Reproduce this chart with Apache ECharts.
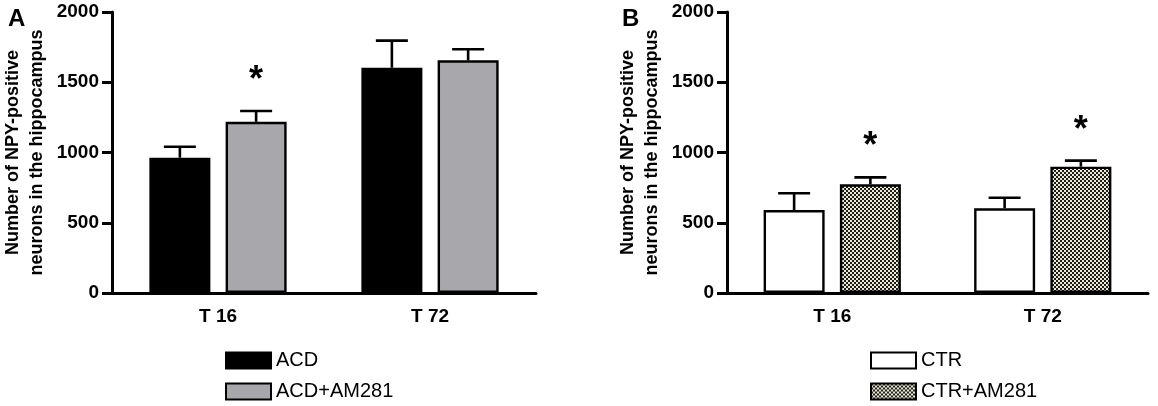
<!DOCTYPE html>
<html>
<head>
<meta charset="utf-8">
<script src="https://cdn.jsdelivr.net/npm/echarts@6/dist/echarts.min.js"></script>
<style>
  html, body { margin: 0; padding: 0; background: #fff; }
  #chart { width: 1158px; height: 406px; }
</style>
</head>
<body>
<div id="chart"></div>
<script>
'use strict';

// values (mean, upper error = SEM)
var groups = ['T 16', 'T 72'];
var yTicks = [0, 500, 1000, 1500, 2000];

var acdMean = [963, 1603];
var acdSem = [78, 193];
var acdAmMean = [1218, 1656];
var acdAmSem = [77, 79];

var ctrMean = [590, 603];
var ctrSem = [120, 75];
var ctrAmMean = [774, 899];
var ctrAmSem = [49, 43];

// significance marks (*) per bar
var acdSig = [false, false];
var acdAmSig = [true, false];
var ctrSig = [false, false];
var ctrAmSig = [true, true];

var yName = 'Number of NPY-positive\nneurons in the hippocampus';
var font = 'Liberation Sans, Arial, sans-serif';

var barW = 61;
var barGap = 0.25;
var half = (barW + barW * barGap) / 2;

// checkered fill for CTR+AM281
var checker = (function() {
  var c = document.createElement('canvas');
  c.width = 4;
  c.height = 4;
  var ctx = c.getContext('2d');
  ctx.fillStyle = '#ebe9d4';
  ctx.fillRect(0, 0, 4, 4);
  ctx.fillStyle = '#1e1e1e';
  ctx.fillRect(0, 0, 2, 2);
  ctx.fillRect(2, 2, 2, 2);
  return c;
})();

var errData = function(mean, sem, sig) {
  return mean.map(function(m, i) {
    return [i, m + sem[i], m, sig[i] ? 1 : 0];
  });
};

var errSeries = function(name, mean, sem, sig, side, axis) {
  return {
    name: name + ' err',
    type: 'custom',
    xAxisIndex: axis,
    yAxisIndex: axis,
    silent: true,
    z: 5,
    data: errData(mean, sem, sig),
    renderItem: function(params, api) {
      var top = api.coord([api.value(0), api.value(1)]);
      var base = api.coord([api.value(0), api.value(2)]);
      var x = top[0] + side * half;
      var st = { stroke: '#000', lineWidth: 2.6 };
      var kids = [
        { type: 'line', shape: { x1: x, y1: base[1], x2: x, y2: top[1] }, style: st },
        { type: 'line', shape: { x1: x - 16, y1: top[1], x2: x + 16, y2: top[1] }, style: st }
      ];
      if (api.value(3)) {
        kids.push({
          type: 'text',
          x: x,
          y: top[1] - 30,
          style: {
            text: '*',
            fill: '#000',
            font: 'bold 36px ' + font,
            align: 'center',
            verticalAlign: 'middle'
          }
        });
      }
      return { type: 'group', children: kids };
    }
  };
};

var barSeries = function(name, mean, color, axis) {
  return {
    name: name,
    type: 'bar',
    xAxisIndex: axis,
    yAxisIndex: axis,
    barWidth: barW,
    barGap: (barGap * 100) + '%',
    silent: true,
    data: mean,
    itemStyle: { color: color, borderColor: '#000', borderWidth: 2.4 }
  };
};

var xAxis = function(idx) {
  return {
    type: 'category',
    gridIndex: idx,
    data: groups,
    axisLine: { lineStyle: { color: '#000', width: 3 } },
    axisTick: { alignWithLabel: true, length: 9, lineStyle: { color: '#000', width: 3 } },
    axisLabel: { color: '#000', fontSize: 19, fontWeight: 'bold', fontFamily: font, margin: 14 }
  };
};

var yAxis = function(idx) {
  return {
    type: 'value',
    gridIndex: idx,
    min: yTicks[0],
    max: yTicks[yTicks.length - 1],
    interval: yTicks[1] - yTicks[0],
    name: yName,
    nameLocation: 'middle',
    nameRotate: 90,
    nameGap: 63,
    nameTextStyle: { color: '#000', fontSize: 18, fontWeight: 'bold', fontFamily: font, lineHeight: 24 },
    splitLine: { show: false },
    axisLine: { show: true, lineStyle: { color: '#000', width: 3 } },
    axisTick: { show: true, length: 10, lineStyle: { color: '#000', width: 3 } },
    axisLabel: {
      color: '#000', fontSize: 19, fontWeight: 'bold', fontFamily: font, margin: 13,
      formatter: function(v) { return String(v); }
    }
  };
};

var legend = function(left, names) {
  return {
    orient: 'vertical',
    left: left,
    top: 345,
    height: 80,
    itemWidth: 45,
    itemHeight: 16,
    itemGap: 10,
    icon: 'rect',
    selectedMode: false,
    data: names,
    textStyle: { color: '#000', fontSize: 20, fontFamily: font, lineHeight: 21 }
  };
};

var chart = echarts.init(document.getElementById('chart'));

chart.setOption({
  backgroundColor: '#fff',
  animation: false,
  title: [
    { text: 'A', left: 3, top: 2, textStyle: { fontSize: 24, fontWeight: 'bold', fontFamily: font, color: '#000' } },
    { text: 'B', left: 617, top: 2, textStyle: { fontSize: 24, fontWeight: 'bold', fontFamily: font, color: '#000' } }
  ],
  legend: [
    legend(220, ['ACD', 'ACD+AM281']),
    legend(865, ['CTR', 'CTR+AM281'])
  ],
  grid: [
    { left: 112, right: 622, top: 12, bottom: 113 },
    { left: 727, right: 10, top: 12, bottom: 113 }
  ],
  xAxis: [xAxis(0), xAxis(1)],
  yAxis: [yAxis(0), yAxis(1)],
  series: [
    barSeries('ACD', acdMean, '#000', 0),
    barSeries('ACD+AM281', acdAmMean, '#a8a8ac', 0),
    barSeries('CTR', ctrMean, '#fff', 1),
    barSeries('CTR+AM281', ctrAmMean, { image: checker, repeat: 'repeat' }, 1),
    errSeries('ACD', acdMean, acdSem, acdSig, -1, 0),
    errSeries('ACD+AM281', acdAmMean, acdAmSem, acdAmSig, 1, 0),
    errSeries('CTR', ctrMean, ctrSem, ctrSig, -1, 1),
    errSeries('CTR+AM281', ctrAmMean, ctrAmSem, ctrAmSig, 1, 1)
  ]
});
</script>
</body>
</html>
